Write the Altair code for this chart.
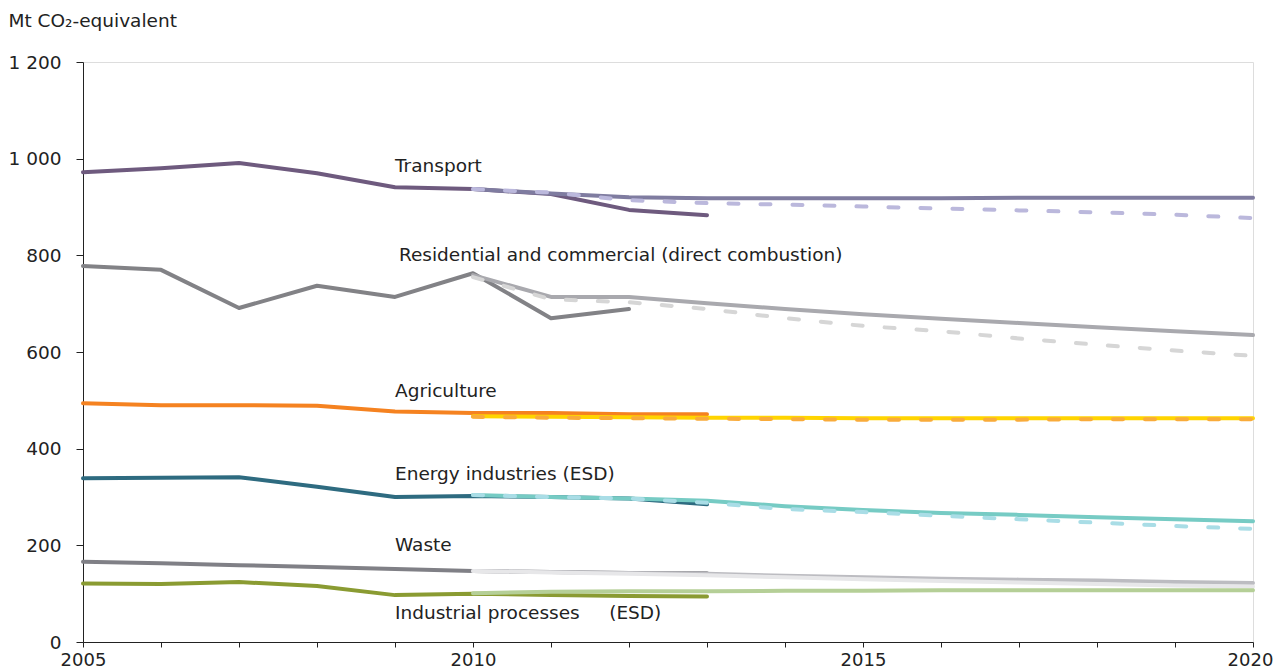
import altair as alt
import pandas as pd

# ---- data ----
hist_years = [2005, 2006, 2007, 2008, 2009, 2010, 2011, 2012, 2013]
proj_years = [2010, 2011, 2012, 2013, 2014, 2015, 2016, 2017, 2018, 2019, 2020]

transport_hist = [972, 980, 991, 970, 941, 937, 927, 894, 883]
residential_hist = [778, 770, 691, 737, 714, 763, 670, 689]  # ends 2012
agriculture_hist = [494, 490, 490, 489, 477, 474, 474, 471, 471]
energy_hist = [339, 340, 341, 321, 300, 302, 300, 297, 285]
waste_hist = [166, 163, 159, 155, 151, 147, 145, 143, 142]
industrial_hist = [121, 120, 124, 116, 97, 100, 97, 95, 94]

transport_wem = [937, 928, 920, 918, 918, 918, 918, 919, 919, 919, 919]
transport_wam = [937, 930, 914, 908, 905, 901, 897, 893, 889, 884, 877]
residential_wem = [759, 714, 714, 701, 689, 678, 669, 660, 651, 643, 635]
residential_wam = [755, 709, 703, 689, 670, 654, 643, 628, 615, 603, 592]
agriculture_wem = [467, 466, 465, 464, 464, 463, 463, 463, 463, 463, 463]
agriculture_wam = [466, 464, 463, 462, 461, 460, 460, 460, 461, 461, 461]
energy_wem = [304, 300, 297, 292, 281, 273, 267, 263, 258, 254, 250]
energy_wam = [304, 300, 297, 288, 275, 269, 261, 254, 247, 240, 234]
waste_wem = [147, 145, 143, 141, 137, 134, 131, 129, 127, 124, 122]
waste_wam = [147, 144, 141, 138, 134, 130, 126, 123, 120, 117, 115]
industrial_wem = [101, 104, 105, 105, 106, 106, 107, 107, 107, 107, 107]

sector_labels = ["Transport", "Residential and commercial (direct combustion)",
                 "Agriculture", "Energy industries (ESD)", "Waste",
                 "Industrial processes\u00a0\u00a0\u00a0\u00a0\u00a0(ESD)"]
label_x = [2009.0, 2009.05, 2009.0, 2009.0, 2009.0, 2009.0]
label_y = [985, 800, 520, 347, 200, 59]

y_ticks = [0, 200, 400, 600, 800, 1000, 1200]
x_ticks = list(range(2005, 2021))

# ---- tables ----
def rows(key, years, vals):
    return [{"series": key, "year": y, "value": v} for y, v in zip(years, vals)]

hist = pd.DataFrame(
    rows("t_h", hist_years, transport_hist)
    + rows("r_h", hist_years[:8], residential_hist)
    + rows("a_h", hist_years, agriculture_hist)
    + rows("e_h", hist_years, energy_hist)
    + rows("w_h", hist_years, waste_hist)
    + rows("i_h", hist_years, industrial_hist)
)
wem = pd.DataFrame(
    rows("t_wem", proj_years, transport_wem)
    + rows("r_wem", proj_years, residential_wem)
    + rows("a_wem", proj_years, agriculture_wem)
    + rows("e_wem", proj_years, energy_wem)
    + rows("w_wem", proj_years, waste_wem)
    + rows("w_wam", proj_years, waste_wam)
    + rows("i_wem", proj_years, industrial_wem)
)
wam = pd.DataFrame(
    rows("t_wam", proj_years, transport_wam)
    + rows("r_wam", proj_years, residential_wam)
    + rows("a_wam", proj_years, agriculture_wam)
    + rows("e_wam", proj_years, energy_wam)
)
labels = pd.DataFrame({"label": sector_labels, "year": label_x, "value": label_y})

domain = ["t_h", "r_h", "a_h", "e_h", "w_h", "i_h",
          "t_wem", "r_wem", "a_wem", "e_wem", "w_wem", "i_wem",
          "t_wam", "r_wam", "a_wam", "e_wam", "w_wam"]
colors = ["#6e5a7e", "#828286", "#f58220", "#2e6b80", "#808086", "#8a9b32",
          "#7f7ca0", "#a9a9ae", "#ffd400", "#76cbc4", "#bcbcc1", "#b5cf97",
          "#bbb8dc", "#d6d6d6", "#f9ab3a", "#a9dde6", "#e7e7e9"]

FONT = "DejaVu Sans"
INK = "#222222"

x_enc = alt.X("year:Q",
              scale=alt.Scale(domain=[2005, 2020], nice=False, zero=False),
              axis=alt.Axis(values=x_ticks, title=None, grid=False,
                            labelExpr="datum.value % 5 === 0 ? '' + datum.value : ''",
                            labelOffset={"condition": {"test": "datum.value === 2020", "value": -3},
                                         "value": 0},
                            tickSize=5, labelPadding=4, labelFontSize=18,
                            labelFont=FONT, labelColor=INK,
                            domainColor=INK, tickColor=INK,
                            labelFlush=False, labelOverlap=False))
y_enc = alt.Y("value:Q",
              scale=alt.Scale(domain=[0, 1200], nice=False),
              axis=alt.Axis(values=y_ticks, grid=False,
                            labelExpr="replace(format(datum.value, ','), ',', ' ')",
                            title="Mt CO₂-equivalent", titleAngle=0,
                            titleX=-75, titleY=-42, titleAlign="left",
                            titleBaseline="middle", titleFont=FONT,
                            titleFontSize=18.5, titleFontWeight="normal",
                            titleColor=INK,
                            tickSize=7, labelPadding=15, labelFontSize=18.5,
                            labelFont=FONT, labelColor=INK,
                            domainColor=INK, tickColor=INK))

color_enc = alt.Color("series:N", scale=alt.Scale(domain=domain, range=colors),
                      legend=None)

hist_layer = alt.Chart(hist).mark_line(strokeWidth=4, strokeCap="round",
                                       strokeJoin="round").encode(
    x=x_enc, y=y_enc, color=color_enc, detail="series:N")
wem_layer = alt.Chart(wem).mark_line(strokeWidth=4, strokeCap="round",
                                     strokeJoin="round").encode(
    x="year:Q", y="value:Q", color=color_enc, detail="series:N")
wam_layer = alt.Chart(wam).mark_line(strokeWidth=4, strokeCap="round",
                                     strokeDash=[10, 22]).encode(
    x="year:Q", y="value:Q", color=color_enc, detail="series:N")
text_layer = alt.Chart(labels).mark_text(align="left", baseline="middle",
                                         font=FONT, fontSize=18.5,
                                         color=INK).encode(
    x="year:Q", y="value:Q", text="label:N")

chart = alt.layer(hist_layer, wem_layer, wam_layer, text_layer).properties(
    width=1170, height=580,
    autosize=alt.AutoSizeParams(type="none"),
    padding={"left": 75, "top": 54, "right": 21, "bottom": 26},
).configure_view(stroke=None).configure(background="white")

chart.save("out.html", embed_options={"renderer": "svg", "actions": False})
